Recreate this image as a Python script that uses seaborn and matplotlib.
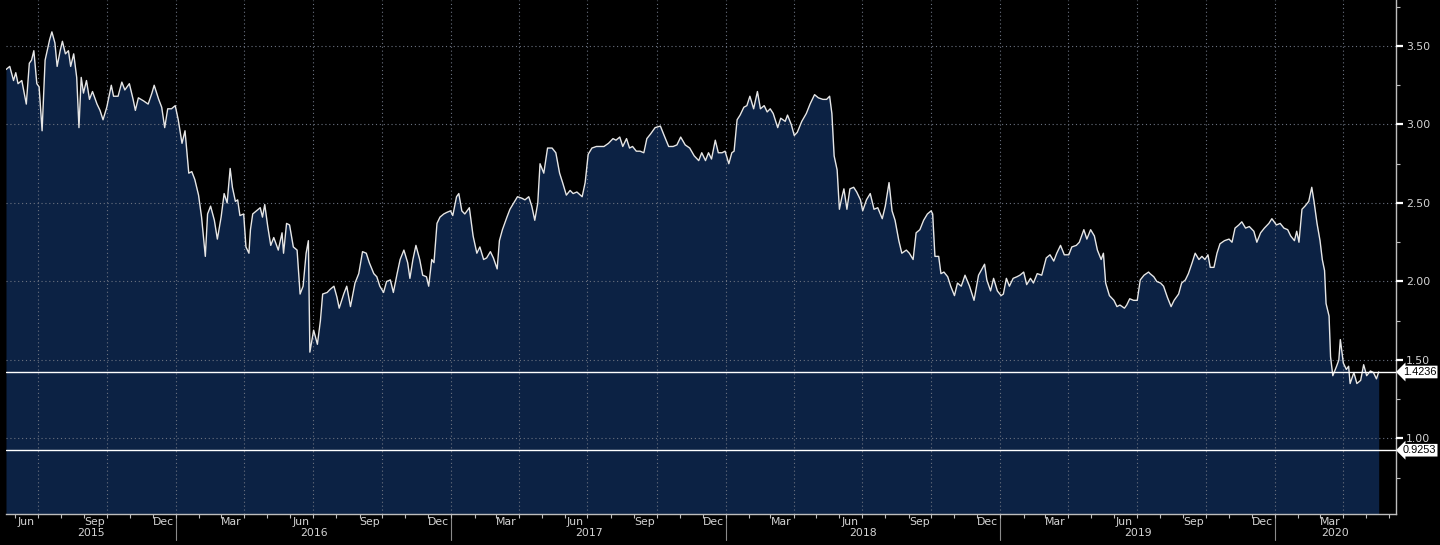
import numpy as np
import pandas as pd
import matplotlib
matplotlib.use("Agg")
import matplotlib.pyplot as plt
import matplotlib.dates as mdates
import matplotlib.transforms as mtransforms
from matplotlib.ticker import MultipleLocator, NullFormatter, FormatStrFormatter
import seaborn as sns

# ---------------- data ----------------
start_date = "2015-05-20"
day_offsets = [
    0, 5, 10, 13, 16, 21, 27, 31, 34, 37, 41, 44, 48, 52, 58, 61, 65, 68, 72, 75,
    79, 83, 86, 90, 94, 97, 100, 103, 107, 111, 115, 121, 125, 129, 134, 140, 143, 149, 154, 158,
    164, 169, 172, 176, 183, 189, 194, 197, 203, 207, 211, 215, 220, 225, 229, 234, 238, 243, 247, 251,
    256, 260, 265, 268, 272, 277, 281, 286, 290, 294, 298,
    301, 305, 308, 311, 316, 319, 323, 325, 328, 333, 338, 341, 344, 348, 352, 356, 362, 367, 369, 373,
    377, 382, 387, 391, 395, 399, 402, 404, 409, 414, 418, 421, 427, 431, 436, 440, 443, 449, 453, 458,
    464, 469, 474, 479, 483, 489, 493, 497, 502, 506, 511, 515, 520, 524, 529, 534, 537, 541, 545, 550,
    554, 559, 562, 566, 569, 573, 577, 582, 586, 591, 594, 599, 602, 606, 610,
    616, 621, 626, 630, 635, 639, 644, 648, 653, 656, 660, 666, 670, 675, 680, 686, 690, 695, 699, 703,
    707, 710, 715, 720, 726, 731, 736, 740, 745, 750, 754, 759, 766, 770, 774, 779, 785, 790, 795, 801,
    807, 811, 816, 820, 825, 829, 833, 838, 843, 848, 852, 857, 863, 870, 875, 881, 887, 892, 897, 903, 909,
    915, 921, 925, 930, 934, 938, 943, 947, 952, 956, 961, 965, 968, 972, 976, 981, 985, 989, 994, 999,
    1003, 1008, 1012, 1016, 1020, 1026, 1030, 1036, 1039, 1044, 1048, 1052, 1058, 1064, 1069, 1075, 1080, 1086, 1091, 1095,
    1098, 1101, 1105, 1108, 1111, 1114, 1118, 1122, 1127, 1131, 1136, 1139, 1144, 1149, 1154, 1159, 1165, 1169, 1174, 1178,
    1182, 1187, 1191, 1197, 1201, 1206, 1210,
    1215, 1220, 1225, 1230, 1232, 1235, 1240, 1243, 1247, 1252, 1256, 1261, 1265, 1270, 1275, 1281, 1287, 1293, 1301, 1304,
    1309, 1313, 1318, 1323, 1326, 1330, 1334, 1339, 1344, 1348, 1353, 1357, 1362, 1366, 1371, 1377, 1383, 1388, 1393, 1397,
    1402, 1407, 1413, 1417, 1423, 1427, 1433, 1437, 1442, 1447, 1451, 1456, 1459, 1462, 1467, 1473, 1477, 1481, 1487, 1490,
    1494, 1499, 1504, 1508, 1513, 1519,
    1521, 1526, 1530, 1535, 1539, 1544, 1549, 1553, 1559, 1563, 1568, 1572, 1577, 1581, 1586, 1590, 1594, 1598, 1601, 1606,
    1610, 1614, 1620, 1626, 1630, 1634, 1639, 1643, 1648, 1653, 1659, 1663, 1668, 1673, 1679, 1683, 1689, 1694, 1699, 1704,
    1708, 1713, 1716, 1719, 1723, 1727, 1732, 1736, 1739, 1743, 1747, 1750, 1753, 1755, 1759, 1761, 1764, 1769, 1772, 1774,
    1778, 1782, 1785, 1787, 1792, 1796, 1801, 1805, 1809, 1814, 1818, 1822, 1825,
]
values = [
    3.35, 3.37, 3.28, 3.33, 3.26, 3.28, 3.13, 3.39, 3.41, 3.47, 3.26, 3.24, 2.96, 3.41, 3.54, 3.59, 3.52, 3.37, 3.47, 3.53,
    3.45, 3.47, 3.37, 3.45, 3.30, 2.98, 3.30, 3.20, 3.28, 3.16, 3.21, 3.13, 3.09, 3.03, 3.11, 3.25, 3.18, 3.18, 3.27, 3.22,
    3.26, 3.16, 3.09, 3.17, 3.15, 3.13, 3.20, 3.25, 3.16, 3.11, 2.98, 3.10, 3.10, 3.12, 3.03, 2.88, 2.96, 2.69, 2.70, 2.65,
    2.55, 2.41, 2.16, 2.43, 2.48, 2.39, 2.27, 2.41, 2.56, 2.50, 2.72,
    2.60, 2.51, 2.52, 2.42, 2.43, 2.22, 2.18, 2.33, 2.43, 2.45, 2.47, 2.41, 2.49, 2.35, 2.23, 2.28, 2.20, 2.31, 2.18, 2.37,
    2.36, 2.22, 2.20, 1.92, 1.97, 2.18, 2.26, 1.55, 1.69, 1.60, 1.75, 1.92, 1.93, 1.95, 1.97, 1.90, 1.83, 1.92, 1.97, 1.84,
    1.99, 2.05, 2.19, 2.18, 2.12, 2.05, 2.03, 1.97, 1.93, 2.00, 2.01, 1.93, 2.05, 2.14, 2.20, 2.12, 2.02, 2.14, 2.23, 2.14,
    2.04, 2.03, 1.97, 2.14, 2.12, 2.37, 2.41, 2.43, 2.44, 2.45, 2.42, 2.54, 2.56, 2.45, 2.43,
    2.47, 2.29, 2.18, 2.22, 2.14, 2.15, 2.19, 2.15, 2.08, 2.26, 2.33, 2.41, 2.46, 2.50, 2.54, 2.53, 2.52, 2.54, 2.48, 2.39,
    2.50, 2.75, 2.69, 2.85, 2.85, 2.82, 2.69, 2.63, 2.55, 2.58, 2.56, 2.57, 2.54, 2.63, 2.81, 2.85, 2.86, 2.86, 2.86, 2.88,
    2.91, 2.90, 2.92, 2.86, 2.91, 2.85, 2.86, 2.83, 2.83, 2.82, 2.91, 2.94, 2.98, 2.99, 2.93, 2.86, 2.86, 2.87, 2.92, 2.87, 2.85,
    2.80, 2.77, 2.82, 2.77, 2.82, 2.78, 2.90, 2.82, 2.82, 2.83, 2.75, 2.82, 2.83, 3.03, 3.06, 3.11, 3.12, 3.18, 3.10, 3.21,
    3.10, 3.12, 3.08, 3.10, 3.07, 2.98, 3.04, 3.02, 3.06, 3.00, 2.93, 2.95, 3.02, 3.07, 3.13, 3.19, 3.17, 3.16, 3.16, 3.18,
    3.07, 2.80, 2.71, 2.46, 2.53, 2.59, 2.46, 2.59, 2.60, 2.57, 2.52, 2.45, 2.52, 2.56, 2.46, 2.47, 2.40, 2.48, 2.63, 2.45,
    2.39, 2.26, 2.18, 2.20, 2.18, 2.14, 2.31,
    2.33, 2.39, 2.43, 2.45, 2.43, 2.16, 2.16, 2.05, 2.06, 2.03, 1.97, 1.91, 1.99, 1.97, 2.04, 1.97, 1.88, 2.04, 2.11, 2.01,
    1.94, 2.02, 1.94, 1.91, 1.92, 2.02, 1.97, 2.02, 2.03, 2.04, 2.06, 1.98, 2.02, 1.99, 2.05, 2.04, 2.15, 2.17, 2.13, 2.18,
    2.23, 2.17, 2.17, 2.22, 2.23, 2.25, 2.33, 2.27, 2.33, 2.29, 2.20, 2.14, 2.18, 1.99, 1.91, 1.88, 1.84, 1.85, 1.83, 1.85,
    1.89, 1.88, 1.88, 2.01, 2.04, 2.06,
    2.05, 2.03, 2.00, 1.99, 1.97, 1.90, 1.84, 1.88, 1.92, 1.99, 2.01, 2.05, 2.12, 2.18, 2.14, 2.16, 2.14, 2.17, 2.09, 2.09,
    2.18, 2.24, 2.26, 2.27, 2.25, 2.34, 2.36, 2.38, 2.34, 2.35, 2.32, 2.25, 2.31, 2.34, 2.37, 2.40, 2.36, 2.37, 2.34, 2.33,
    2.29, 2.26, 2.32, 2.25, 2.46, 2.48, 2.51, 2.60, 2.51, 2.37, 2.26, 2.14, 2.07, 1.86, 1.78, 1.52, 1.40, 1.46, 1.50, 1.63,
    1.48, 1.44, 1.46, 1.35, 1.42, 1.35, 1.37, 1.47, 1.40, 1.43, 1.42, 1.38, 1.4236,
]
ref_levels = [1.4236, 0.9253]
ref_labels = ["1.4236", "0.9253"]
y_ticks = [1.00, 1.50, 2.00, 2.50, 3.00, 3.50]
month_labels = ["Mar", "Jun", "Sep", "Dec"]
years = [2015, 2016, 2017, 2018, 2019, 2020]
x_end = "2020-06-10"
y_range = (0.519, 3.793)

dates = pd.Timestamp(start_date) + pd.to_timedelta(day_offsets, unit="D")
df = pd.DataFrame({"date": dates, "value": values})

# ---------------- styling ----------------
sns.set_style("dark", rc={
    "axes.facecolor": "black",
    "figure.facecolor": "black",
    "axes.edgecolor": "#bdbdbd",
    "text.color": "#d9d9d9",
    "xtick.color": "#bdbdbd",
    "ytick.color": "#bdbdbd",
})
plt.rcParams["font.family"] = ["DejaVu Sans"]

BG = "black"
FILL = "#0c2244"
LINE = "#e6e6e6"
GRID = "#6b7280"
TXT = "#d4d4d4"

fig = plt.figure(figsize=(14.4, 5.45), dpi=100, facecolor=BG)
ax = fig.add_axes([6 / 1440, 31 / 545, 1390 / 1440, 514 / 545])
ax.set_facecolor(BG)

x0 = pd.Timestamp(start_date)
x1 = pd.Timestamp(x_end)

ax.fill_between(df["date"], df["value"], y_range[0], color=FILL, lw=0, zorder=1)
sns.lineplot(data=df, x="date", y="value", ax=ax, color=LINE, lw=1.0,
             estimator=None, sort=False, zorder=4)

for lv in ref_levels:
    ax.axhline(lv, color="white", lw=1.0, zorder=5)

ax.set_xlim(x0, x1)
ax.set_ylim(*y_range)
ax.set_xlabel("")
ax.set_ylabel("")

# y axis on the right
ax.yaxis.tick_right()
ax.yaxis.set_major_locator(plt.FixedLocator(y_ticks))
ax.yaxis.set_minor_locator(MultipleLocator(0.25))
ax.yaxis.set_major_formatter(FormatStrFormatter("%.2f"))
ax.tick_params(axis="y", which="major", length=5, width=1.6, color="white",
               labelsize=7.8, labelcolor=TXT, pad=2, right=True, left=False)
ax.tick_params(axis="y", which="minor", length=3, width=0.8, color="#bdbdbd",
               right=True, left=False)

# x axis: quarters as gridlines, monthly small ticks
ax.xaxis.set_major_locator(mdates.MonthLocator(bymonth=[1, 4, 7, 10]))
ax.xaxis.set_minor_locator(mdates.MonthLocator())
ax.xaxis.set_major_formatter(NullFormatter())
ax.xaxis.set_minor_formatter(NullFormatter())
ax.tick_params(axis="x", which="both", length=3, width=0.8, color="#bdbdbd", bottom=True)

ax.set_axisbelow(False)
ax.grid(True, which="major", axis="both", color=GRID, lw=0.8, linestyle=(0, (1, 2.5)), zorder=2)
for gl in ax.get_xgridlines() + ax.get_ygridlines():
    gl.set_zorder(2)

for side in ["left", "top"]:
    ax.spines[side].set_visible(False)
for side in ["right", "bottom"]:
    ax.spines[side].set_visible(True)
    ax.spines[side].set_color("#bdbdbd")
    ax.spines[side].set_linewidth(1.0)

trans = mtransforms.blended_transform_factory(ax.transData, ax.transAxes)
# month labels centred in the month
month_num = {"Mar": 3, "Jun": 6, "Sep": 9, "Dec": 12}
for yr in years:
    for m in month_labels:
        d = pd.Timestamp(year=yr, month=month_num[m], day=15)
        if x0 <= d <= x1:
            ax.text(d, -0.005, m, transform=trans, ha="center", va="top",
                    fontsize=7.8, color=TXT, clip_on=False)
# year labels centred in the visible part of each year, separators at Jan 1
for yr in years:
    a = max(pd.Timestamp(year=yr, month=1, day=1), x0)
    b = min(pd.Timestamp(year=yr + 1, month=1, day=1), x1)
    mid = a + (b - a) / 2
    ax.text(mid, -0.027, str(yr), transform=trans, ha="center", va="top",
            fontsize=7.8, color=TXT, clip_on=False)
    sep = pd.Timestamp(year=yr + 1, month=1, day=1)
    if x0 < sep < x1:
        ax.plot([sep, sep], [0, -0.05], transform=trans, color="#8a8a8a",
                lw=0.8, clip_on=False)

# reference level labels on the right axis
ytrans = mtransforms.blended_transform_factory(ax.transAxes, ax.transData)
for lv, lab in zip(ref_levels, ref_labels):
    ax.text(1.0048, lv, lab, transform=ytrans, ha="left", va="center",
            fontsize=7.9, color="black", clip_on=False, zorder=6,
            family=["Liberation Sans", "DejaVu Sans"],
            bbox=dict(boxstyle="larrow,pad=0.12", fc="white", ec="none"))

fig.savefig("out.png", dpi=100, facecolor=BG)
